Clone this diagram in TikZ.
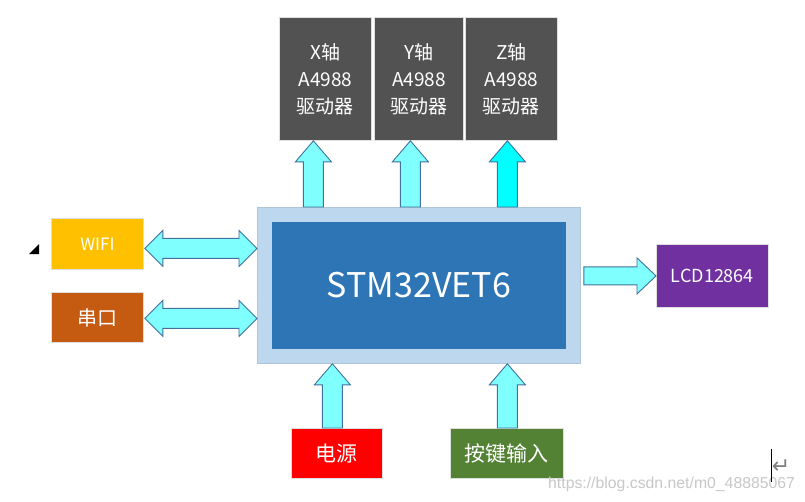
\documentclass[tikz,border=0pt]{standalone}
\usepackage{fontspec}
\setmainfont{Noto Sans CJK SC}
\newfontfamily\wmfont{Liberation Sans}
\newfontfamily\symfont{DejaVu Sans}
\usetikzlibrary{calc}
\definecolor{drvgray}{HTML}{525252}
\definecolor{outerblue}{HTML}{BDD7EE}
\definecolor{innerblue}{HTML}{2E75B6}
\definecolor{wifiyel}{HTML}{FFC000}
\definecolor{serorg}{HTML}{C55A11}
\definecolor{lcdpur}{HTML}{7030A0}
\definecolor{pwrred}{HTML}{FF0000}
\definecolor{keygrn}{HTML}{548235}
\definecolor{arrfill}{HTML}{80FFFF}
\definecolor{arrcyan}{HTML}{00FFFF}
\definecolor{arredge}{HTML}{41719C}
\definecolor{wmgray}{HTML}{C8C8C8}
\tikzset{
  blk/.style={draw=gray!25, line width=0.8pt, inner sep=0pt, text=white, align=center, anchor=north west},
  blockarrow/.style={draw=arredge, line width=0.9pt, line join=miter},
}
\newcommand\uparrowbox[3]{%
  \filldraw[blockarrow, fill=#3] let \p1=#1, \p2=#2 in
   (\x1-10pt,\y1) -- (\x1-10pt,\y2-21pt) -- (\x1-18pt,\y2-21pt) -- (\x2,\y2)
   -- (\x1+18pt,\y2-21pt) -- (\x1+10pt,\y2-21pt) -- (\x1+10pt,\y1) -- cycle;}
\newcommand\dblarrow[2]{%
  \filldraw[blockarrow, fill=arrfill] let \p1=#1, \p2=#2 in
   (\x1,\y1) -- (\x1+18pt,\y1+18pt) -- (\x1+18pt,\y1+10pt) -- (\x2-18pt,\y1+10pt)
   -- (\x2-18pt,\y1+18pt) -- (\x2,\y1) -- (\x2-18pt,\y1-18pt) -- (\x2-18pt,\y1-10pt)
   -- (\x1+18pt,\y1-10pt) -- (\x1+18pt,\y1-18pt) -- cycle;}
\newcommand\rightarrowbox[2]{%
  \filldraw[blockarrow, fill=arrfill] let \p1=#1, \p2=#2 in
   (\x1,\y1+9pt) -- (\x2-19pt,\y1+9pt) -- (\x2-19pt,\y1+18pt) -- (\x2,\y1)
   -- (\x2-19pt,\y1-18pt) -- (\x2-19pt,\y1-9pt) -- (\x1,\y1-9pt) -- cycle;}
\begin{document}
\begin{tikzpicture}[x=1pt,y=-1pt]
\useasboundingbox[fill=white] (0,0) rectangle (805,501);
% driver boxes
\node[blk, fill=drvgray, minimum width=92pt, minimum height=123pt, font=\fontsize{19}{27}\selectfont] (X) at (279,17) {X轴\\A4988\\驱动器};
\node[blk, fill=drvgray, minimum width=89pt, minimum height=123pt, font=\fontsize{19}{27}\selectfont] (Y) at (374,17) {Y轴\\A4988\\驱动器};
\node[blk, fill=drvgray, minimum width=92pt, minimum height=123pt, font=\fontsize{19}{27}\selectfont] (Z) at (465,17) {Z轴\\A4988\\驱动器};
% main
\node[blk, fill=outerblue, draw=outerblue!80!gray, minimum width=323pt, minimum height=156pt] (outer) at (257,207) {};
\node[blk, fill=innerblue, draw=innerblue, minimum width=293pt, minimum height=126pt, font=\fontsize{34}{40}\selectfont] (mcu) at (272,222) {STM32VET6};
% side boxes
\node[blk, fill=wifiyel, minimum width=92pt, minimum height=51pt, font=\fontsize{17}{20}\selectfont] (wifi) at (51,218) {WIFI};
\node[blk, fill=serorg, minimum width=92pt, minimum height=50pt, font=\fontsize{20}{24}\selectfont] (uart) at (51,292) {串口};
\node[blk, fill=lcdpur, minimum width=112pt, minimum height=63pt, font=\fontsize{18}{22}\selectfont] (lcd) at (656,244) {LCD12864};
\node[blk, fill=pwrred, minimum width=91pt, minimum height=50pt, font=\fontsize{21}{24}\selectfont] (pwr) at (291,428) {电源};
\node[blk, fill=keygrn, minimum width=113pt, minimum height=50pt, font=\fontsize{21}{24}\selectfont] (key) at (450,428) {按键输入};
% arrows up to drivers
\coordinate (xt) at ($(X.south)+(-12,0)$);
\coordinate (yt) at ($(Y.south)+(-8.5,0)$);
\coordinate (zt) at ($(Z.south)+(-4,0)$);
\uparrowbox{(xt |- outer.north)}{(xt)}{arrfill}
\uparrowbox{(yt |- outer.north)}{(yt)}{arrfill}
\uparrowbox{(zt |- outer.north)}{(zt)}{arrcyan}
% arrows up from bottom boxes
\coordinate (pb) at ($(pwr.north)+(-4.5,0)$);
\coordinate (kb) at ($(key.north)+(0.5,0)$);
\uparrowbox{(pb)}{(pb |- outer.south)}{arrfill}
\uparrowbox{(kb)}{(kb |- outer.south)}{arrfill}
% double arrows
\coordinate (wl) at ($(wifi.east)+(1,4.5)$);
\coordinate (ul) at ($(uart.east)+(1,1)$);
\dblarrow{(wl)}{(wl -| outer.west)}
\dblarrow{(ul)}{(ul -| outer.west)}
% right arrow
\coordinate (lr) at ($(lcd.west -| outer.east)+(3,0)$);
\rightarrowbox{(lr)}{(lcd.west)}
% small triangle
\fill[black] (39,244) -- (39,254) -- (29,254) -- cycle;
% watermark, cursor
\node[anchor=base west, inner sep=0pt, text=wmgray, font=\wmfont\fontsize{15.8}{18}\selectfont] (wm) at (548,488) {https://blog.csdn.net/m0\_48885067};
\node[anchor=center, inner sep=0pt, text=gray, font=\symfont\fontsize{22}{24}\selectfont] (ret) at (781,467) {↵};
\coordinate (c1) at (771,449);
\coordinate (c2) at (771,482);
\draw[black, line width=1pt] (c1) -- (c2);
\end{tikzpicture}
\end{document}
